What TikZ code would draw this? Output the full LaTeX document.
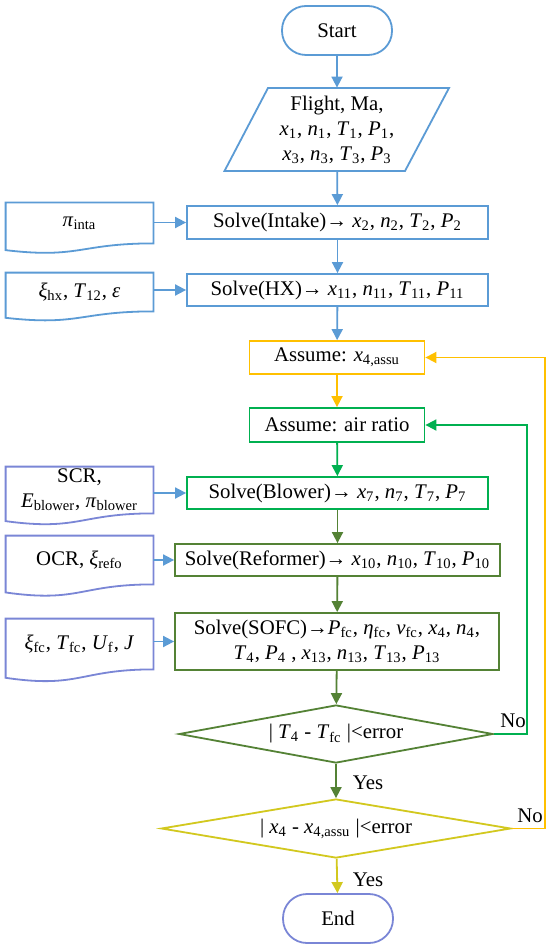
\documentclass[tikz,border=0pt]{standalone}
\usepackage{fontspec}
\setmainfont{Liberation Serif}
\usetikzlibrary{arrows.meta,calc,shapes.geometric}
\definecolor{cblue}{HTML}{5B9BD5}
\definecolor{corange}{HTML}{FFC000}
\definecolor{cgreen}{HTML}{00B050}
\definecolor{cdgreen}{HTML}{548235}
\definecolor{cyellow}{HTML}{D2C81E}
\definecolor{cpurple}{HTML}{7A86D6}
\newcommand\vv[2]{\textit{#1}\textsubscript{#2}}
\newcommand\docshape[2]{%
  \draw[#1,line width=0.9pt] (#2.south east) -- (#2.north east) -- (#2.north west)
    -- ($(#2.south west)!-0.165!(#2.north west)$)
    .. controls ($(#2.south)!-0.38!(#2.north)$) and (#2.south) .. (#2.south east) -- cycle;}
\tikzset{
  every node/.style={font=\fontsize{10.4}{12.5}\selectfont,text=black},
  procbox/.style={draw,line width=0.9pt,rectangle,inner sep=0pt,align=center},
  termbox/.style={draw,line width=0.9pt,rectangle,rounded corners=12pt,inner sep=0pt,minimum width=55pt,minimum height=24.5pt},
  inbox/.style={rectangle,inner sep=0pt,minimum width=73.5pt,align=center},
  decbox/.style={draw,line width=0.9pt,diamond,aspect=5.5,inner sep=0pt},
  conn/.style={line width=0.9pt,-{Triangle[length=5.5pt,width=5.5pt]}},
}
\begin{document}
\begin{tikzpicture}[x=0.5pt,y=-0.5pt]
\useasboundingbox[fill=white] (0,0) rectangle (550,952);
% main column
\node[termbox,draw=cblue] (start) at (337,30.5) {Start};
\node[rectangle,inner sep=0pt,minimum height=41.5pt,align=center] (flight) at (337,129.5)
  {Flight, Ma,\\ \vv{x}{1}, \vv{n}{1}, \vv{T}{1}, \vv{P}{1},\\ \vv{x}{3}, \vv{n}{3}, \vv{T}{3}, \vv{P}{3}};
\draw[cblue,line width=0.9pt] (268,88) -- (449,88) -- (405,171) -- (224.5,171) -- cycle;
\node[procbox,draw=cblue,minimum width=150.5pt,minimum height=16.5pt] (intake) at (337.5,222.5)
  {Solve(Intake)→ \vv{x}{2}, \vv{n}{2}, \vv{T}{2}, \vv{P}{2}};
\node[procbox,draw=cblue,minimum width=150.5pt,minimum height=16pt] (hx) at (337.5,290)
  {Solve(HX)→ \vv{x}{11}, \vv{n}{11}, \vv{T}{11}, \vv{P}{11}};
\node[procbox,draw=corange,minimum width=87.5pt,minimum height=16.5pt] (xa) at (337,357.5)
  {Assume: \vv{x}{4,assu}};
\node[procbox,draw=cgreen,minimum width=87.5pt,minimum height=17pt] (air) at (337,425)
  {Assume: air ratio};
\node[procbox,draw=cgreen,minimum width=150.5pt,minimum height=16pt] (blower) at (337.5,493)
  {Solve(Blower)→ \vv{x}{7}, \vv{n}{7}, \vv{T}{7}, \vv{P}{7}};
\node[procbox,draw=cdgreen,minimum width=162.5pt,minimum height=16pt] (refo) at (337.5,560)
  {Solve(Reformer)→ \vv{x}{10}, \vv{n}{10}, \vv{T}{10}, \vv{P}{10}};
\node[procbox,draw=cdgreen,minimum width=162pt,minimum height=28.5pt] (sofc) at (337,641.5)
  {Solve(SOFC)→\vv{P}{fc}, \vv{η}{fc}, \vv{v}{fc}, \vv{x}{4}, \vv{n}{4},\\
   \vv{T}{4}, \vv{P}{4} , \vv{x}{13}, \vv{n}{13}, \vv{T}{13}, \vv{P}{13}};
\node[decbox,draw=cdgreen,minimum width=157pt,minimum height=29pt] (d1) at (336,734)
  {| \vv{T}{4} - \vv{T}{fc} |<error};
\node[decbox,draw=cyellow,minimum width=174.75pt,minimum height=29.5pt] (d2) at (336,828.5)
  {| \vv{x}{4} - \vv{x}{4,assu} |<error};
\node[termbox,draw=cpurple] (end) at (338,918.5) {End};
% inputs
\node[inbox,minimum height=20pt] (pin) at (79.5,223) {\vv{π}{inta}};
\docshape{cblue}{pin}
\node[inbox,minimum height=19pt] (hxin) at (79.5,292) {\vv{ξ}{hx}, \vv{T}{12}, \textit{ε}};
\docshape{cblue}{hxin}
\node[inbox,minimum height=23pt] (scr) at (79.5,490) {SCR,\\ \vv{E}{blower}, \vv{π}{blower}};
\docshape{cpurple}{scr}
\node[inbox,minimum height=24pt] (ocr) at (79.5,560) {OCR, \vv{ξ}{refo}};
\docshape{cpurple}{ocr}
\node[inbox,minimum height=25pt] (sin) at (79.5,644) {\vv{ξ}{fc}, \vv{T}{fc}, \vv{U}{f}, \textit{J}};
\docshape{cpurple}{sin}
% connectors
\draw[conn,cblue] (start) -- (flight);
\draw[conn,cblue] (flight) -- (intake);
\draw[conn,cblue] (intake) -- (hx);
\draw[conn,cblue] (hx) -- (xa);
\draw[conn,corange] (xa) -- (air);
\draw[conn,cgreen] (air) -- (blower);
\draw[conn,cdgreen] (blower) -- (refo);
\draw[conn,cdgreen] (refo) -- (sofc);
\draw[conn,cdgreen] (sofc) -- (d1);
\draw[conn,cdgreen] (d1) -- (d2);
\draw[conn,cyellow] (d2) -- (end);
\draw[conn,cblue] (pin.east |- intake.west) -- (intake.west);
\draw[conn,cblue] (hxin.east |- hx.west) -- (hx.west);
\draw[conn,cblue] (scr.east |- blower.west) -- (blower.west);
\draw[conn,cblue] (ocr.east |- refo.west) -- (refo.west);
\draw[conn,cblue] (sin.east |- sofc.west) -- (sofc.west);
% feedback loops
\coordinate (r1) at (527,734);
\coordinate (r2) at (545,828.5);
\draw[conn,cgreen] (d1.east) -- (r1) |- (air.east);
\draw[conn,corange] (d2.east) -- (r2) |- (xa.east);
\node (no1) at (513,721) {No};
\node (no2) at (530,816) {No};
\node (yes1) at (368,783) {Yes};
\node (yes2) at (368,880) {Yes};
\end{tikzpicture}
\end{document}
